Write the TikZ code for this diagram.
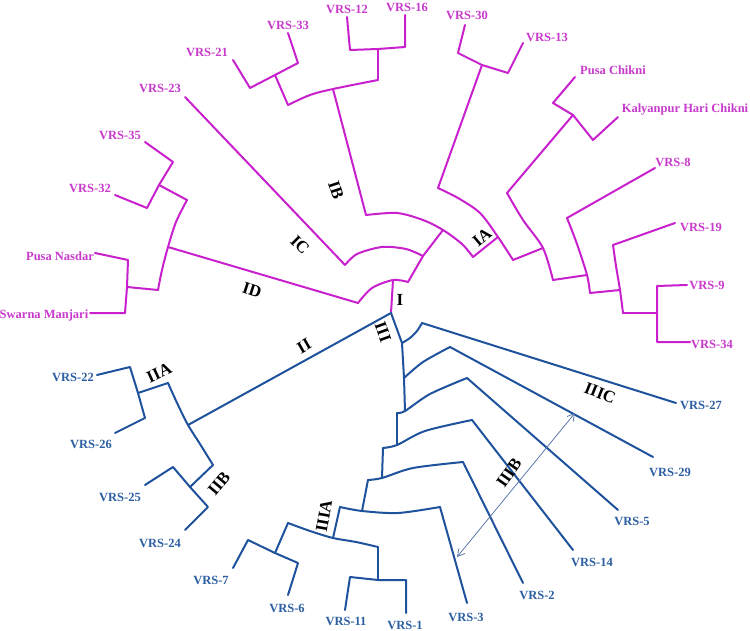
\documentclass[tikz,border=0pt]{standalone}
\usepackage{fontspec}
\setmainfont{Liberation Serif}
\usetikzlibrary{arrows.meta}
\definecolor{dendmag}{HTML}{C820CC}
\definecolor{dendblue}{HTML}{1F529C}
\definecolor{magtext}{HTML}{C83ACC}
\definecolor{bluetext}{HTML}{2C5FA2}
\definecolor{arrowgrey}{HTML}{5A78A8}

\begin{document}
\begin{tikzpicture}[x=1pt,y=-1pt,
    magbranch/.style={dendmag,line width=2pt,line join=round,line cap=round},
    bluebranch/.style={dendblue,line width=2pt,line join=round,line cap=round},
    maglabel/.style={magtext,font=\bfseries\fontsize{12.5}{12.5}\selectfont,inner sep=0pt},
    bluelabel/.style={bluetext,font=\bfseries\fontsize{12.5}{12.5}\selectfont,inner sep=0pt},
    grouplabel/.style={black,font=\bfseries\fontsize{17}{17}\selectfont,inner sep=0pt}]

    \useasboundingbox (0,0) rectangle (750,631);

    % Draw cluster ID.
    \node[maglabel] (n35) at (120,135) {VRS-35};
    \node[maglabel] (n32) at (90,188) {VRS-32};
    \node[maglabel] (nPN) at (60,256) {Pusa Nasdar};
    \node[maglabel] (nSM) at (44,315) {Swarna Manjari};
    \coordinate (t35) at (145,142); \coordinate (b35) at (173,162);
    \coordinate (t32) at (115,195); \coordinate (b32) at (147,208);
    \coordinate (j3532) at (159,185); \coordinate (s3532) at (187,200);
    \coordinate (tPN) at (95,253); \coordinate (bPN) at (128,260);
    \coordinate (tSM) at (90,313); \coordinate (bSM) at (125,313);
    \coordinate (jPNSM) at (127,287); \coordinate (sPNSM) at (158,290);
    \coordinate (jD) at (168,247); \coordinate (rD) at (358,303);
    \draw[magbranch] (t35) -- (b35) -- (j3532) -- (b32) -- (t32);
    \draw[magbranch] (j3532) -- (s3532);
    \draw[magbranch] (tPN) -- (bPN) -- (jPNSM) -- (bSM) -- (tSM);
    \draw[magbranch] (jPNSM) -- (sPNSM);
    \draw[magbranch] plot[smooth] coordinates {(s3532) (176,222) (jD) (162,270) (sPNSM)};
    \draw[magbranch] (jD) -- (rD);

    % Draw root of cluster I.
    \coordinate (jRoot) at (391,313);
    \coordinate (jI) at (393,280); \coordinate (a1r) at (408,282);
    \coordinate (jABC) at (423,256); \coordinate (jAB) at (443,230);
    \draw[magbranch] plot[smooth] coordinates {(rD) (372,288) (jI) (a1r)};
    \draw[magbranch] (jI) -- (jRoot);
    \draw[magbranch] (a1r) -- (jABC) -- (jAB);

    % Draw cluster IC.
    \node[maglabel] (n23) at (160,88) {VRS-23};
    \coordinate (t23) at (185,97); \coordinate (rC) at (345,265);
    \draw[magbranch] (t23) -- (rC);
    \draw[magbranch] plot[smooth] coordinates {(rC) (357,254) (382,247) (406,249) (jABC)};

    % Draw cluster IB.
    \coordinate (rB) at (366,215); \coordinate (rA) at (473,257);
    \draw[magbranch] plot[smooth] coordinates {(rB) (397,213) (423,220) (jAB) (462,244) (rA)};
    \node[maglabel] (n21) at (207,52) {VRS-21};
    \node[maglabel] (n33) at (288,25) {VRS-33};
    \node[maglabel] (n12) at (347,9) {VRS-12};
    \node[maglabel] (n16) at (407,7) {VRS-16};
    \coordinate (jB) at (333,89);
    \coordinate (s2133) at (288,105); \coordinate (s1216) at (378,80);
    \coordinate (t21) at (233,60); \coordinate (b21) at (250,88);
    \coordinate (j2133) at (275,75);
    \coordinate (b33) at (298,63); \coordinate (t33) at (288,33);
    \coordinate (t12) at (347,17); \coordinate (b12) at (350,50);
    \coordinate (j1216) at (378,49);
    \coordinate (b16) at (405,47); \coordinate (t16) at (405,15);
    \draw[magbranch] (jB) -- (rB);
    \draw[magbranch] plot[smooth] coordinates {(s2133) (310,95) (jB) (s1216)};
    \draw[magbranch] (t21) -- (b21) -- (j2133) -- (b33) -- (t33);
    \draw[magbranch] (j2133) -- (s2133);
    \draw[magbranch] (t12) -- (b12) -- (j1216) -- (b16) -- (t16);
    \draw[magbranch] (j1216) -- (s1216);

    % Draw cluster IA.
    \node[maglabel] (n30) at (467,15) {VRS-30};
    \node[maglabel] (n13) at (547,37) {VRS-13};
    \node[maglabel] (nPC) at (613,70) {Pusa Chikni};
    \node[maglabel] (nKH) at (685,110) {Kalyanpur Hari Chikni};
    \node[maglabel] (n8) at (673,162) {VRS-8};
    \node[maglabel] (n19) at (701,227) {VRS-19};
    \node[maglabel] (n9) at (707,285) {VRS-9};
    \node[maglabel] (n34) at (712,344) {VRS-34};
    \coordinate (jA) at (498,237); \coordinate (s3013) at (438,188);
    \coordinate (sA2) at (513,260); \coordinate (jA2) at (543,248);
    \coordinate (sPC) at (507,193); \coordinate (sA3) at (553,280);
    \coordinate (jA3) at (587,275); \coordinate (b8) at (567,218);
    \coordinate (sA4) at (590,293); \coordinate (jA4) at (620,290);
    \coordinate (b19) at (613,245); \coordinate (sA5) at (623,313);
    \coordinate (j934) at (657,313);
    \coordinate (t9) at (687,285); \coordinate (b9) at (657,286);
    \coordinate (t34) at (690,342); \coordinate (b34) at (657,342);
    \coordinate (t30) at (465,25); \coordinate (b30) at (458,53);
    \coordinate (j3013) at (482,65);
    \coordinate (b13) at (508,73); \coordinate (t13) at (523,43);
    \coordinate (tPC) at (575,77); \coordinate (bPC) at (553,103);
    \coordinate (jPK) at (573,115);
    \coordinate (bKH) at (593,140); \coordinate (tKH) at (618,117);
    \coordinate (t8) at (655,168); \coordinate (t19) at (675,223);
    \draw[magbranch] (rA) -- (jA);
    \draw[magbranch] plot[smooth] coordinates {(s3013) (458,198) (480,213) (jA) (sA2)};
    \draw[magbranch] (sA2) -- (jA2);
    \draw[magbranch] plot[smooth] coordinates {(sPC) (523,220) (jA2) (sA3)};
    \draw[magbranch] (sA3) -- (jA3);
    \draw[magbranch] plot[smooth] coordinates {(b8) (577,244) (jA3) (sA4)};
    \draw[magbranch] (sA4) -- (jA4);
    \draw[magbranch] plot[smooth] coordinates {(b19) (616,266) (jA4) (sA5)};
    \draw[magbranch] (sA5) -- (j934);
    \draw[magbranch] (t9) -- (b9) -- (j934) -- (b34) -- (t34);
    \draw[magbranch] (t30) -- (b30) -- (j3013) -- (b13) -- (t13);
    \draw[magbranch] (j3013) -- (s3013);
    \draw[magbranch] (tPC) -- (bPC) -- (jPK) -- (bKH) -- (tKH);
    \draw[magbranch] (jPK) -- (sPC);
    \draw[magbranch] (t8) -- (b8);
    \draw[magbranch] (t19) -- (b19);

    % Draw cluster II.
    \node[bluelabel] (n22) at (73,377) {VRS-22};
    \node[bluelabel] (n26) at (91,444) {VRS-26};
    \node[bluelabel] (n25) at (120,497) {VRS-25};
    \node[bluelabel] (n24) at (160,543) {VRS-24};
    \coordinate (jII) at (188,425);
    \coordinate (s2226) at (168,383); \coordinate (s2524) at (213,465);
    \coordinate (t22) at (97,375); \coordinate (b22) at (130,367);
    \coordinate (j2226) at (138,393);
    \coordinate (b26) at (145,418); \coordinate (t26) at (115,433);
    \coordinate (j2524) at (190,487);
    \coordinate (t25) at (145,485); \coordinate (b25) at (173,467);
    \coordinate (b24) at (208,507); \coordinate (t24) at (185,530);
    \draw[bluebranch] (jRoot) -- (jII);
    \draw[bluebranch] plot[smooth] coordinates {(s2226) (178,405) (jII) (200,444) (s2524)};
    \draw[bluebranch] (t22) -- (b22) -- (j2226) -- (b26) -- (t26);
    \draw[bluebranch] (j2226) -- (s2226);
    \draw[bluebranch] (s2524) -- (j2524);
    \draw[bluebranch] (t25) -- (b25) -- (j2524) -- (b24) -- (t24);

    % Draw cluster III.
    \node[bluelabel] (n27) at (701,405) {VRS-27};
    \node[bluelabel] (n29) at (670,472) {VRS-29};
    \node[bluelabel] (n5) at (632,521) {VRS-5};
    \node[bluelabel] (n14) at (592,562) {VRS-14};
    \node[bluelabel] (n2) at (537,595) {VRS-2};
    \node[bluelabel] (n3) at (466,617) {VRS-3};
    \node[bluelabel] (n1) at (405,625) {VRS-1};
    \node[bluelabel] (n11) at (346,621) {VRS-11};
    \node[bluelabel] (n6) at (287,608) {VRS-6};
    \node[bluelabel] (n7) at (211,580) {VRS-7};
    \coordinate (jIII) at (402,343); \coordinate (b27) at (422,323);
    \coordinate (c2) at (404,378); \coordinate (b29) at (450,347);
    \coordinate (j3) at (405,411); \coordinate (c3) at (397,413); \coordinate (b5) at (467,378);
    \coordinate (j4) at (397,445); \coordinate (c4) at (383,448); \coordinate (b14) at (472,420);
    \coordinate (j5) at (382,478); \coordinate (c5) at (368,480); \coordinate (b2) at (463,462);
    \coordinate (j6) at (362,511); \coordinate (c6) at (340,507); \coordinate (b3) at (440,507);
    \coordinate (t27) at (676,403); \coordinate (t29) at (653,457);
    \coordinate (t5) at (618,510); \coordinate (t14) at (573,550);
    \coordinate (t2) at (523,583); \coordinate (t3) at (467,603);
    \draw[bluebranch] (jRoot) -- (jIII);
    \draw[bluebranch] plot[smooth] coordinates {(jIII) (410,338) (417,331) (b27)};
    \draw[bluebranch] (jIII) -- (c2);
    \draw[bluebranch] plot[smooth] coordinates {(c2) (423,362) (b29)};
    \draw[bluebranch] (c2) -- (j3);
    \draw[bluebranch] plot[smooth] coordinates {(c3) (j3) (430,394) (b5)};
    \draw[bluebranch] (c3) -- (j4);
    \draw[bluebranch] plot[smooth] coordinates {(c4) (j4) (425,431) (b14)};
    \draw[bluebranch] (c4) -- (j5);
    \draw[bluebranch] plot[smooth] coordinates {(c5) (j5) (413,468) (b2)};
    \draw[bluebranch] (c5) -- (j6);
    \draw[bluebranch] plot[smooth] coordinates {(c6) (j6) (398,513) (b3)};
    \draw[bluebranch] (b27) -- (t27);
    \draw[bluebranch] (b29) -- (t29);
    \draw[bluebranch] (b5) -- (t5);
    \draw[bluebranch] (b14) -- (t14);
    \draw[bluebranch] (b2) -- (t2);
    \draw[bluebranch] (b3) -- (t3);

    % Draw cluster IIIA.
    \coordinate (jIIIA) at (333,538);
    \coordinate (s76) at (288,523); \coordinate (s111) at (378,547);
    \coordinate (j76) at (275,553);
    \coordinate (t7) at (233,568); \coordinate (b7) at (248,540);
    \coordinate (b6) at (298,563); \coordinate (t6) at (288,595);
    \coordinate (j111) at (378,580);
    \coordinate (t11) at (345,610); \coordinate (b11) at (350,577);
    \coordinate (b1) at (406,580); \coordinate (t1) at (406,613);
    \draw[bluebranch] (c6) -- (jIIIA);
    \draw[bluebranch] plot[smooth] coordinates {(s76) (310,531) (jIIIA) (356,542) (s111)};
    \draw[bluebranch] (s76) -- (j76);
    \draw[bluebranch] (t7) -- (b7) -- (j76) -- (b6) -- (t6);
    \draw[bluebranch] (s111) -- (j111);
    \draw[bluebranch] (t11) -- (b11) -- (j111) -- (b1) -- (t1);

    % Draw double arrow across IIIB.
    \coordinate (arrA) at (575,413); \coordinate (arrB) at (457,557);
    \draw[arrowgrey,line width=0.8pt,{Straight Barb[length=7pt,width=8pt]}-{Straight Barb[length=7pt,width=8pt]}] (arrB) -- (arrA);

    % Draw cluster names.
    \node[grouplabel] (gI) at (400,300) {I};
    \node[grouplabel,rotate=40] (gIA) at (482,237) {IA};
    \node[grouplabel,rotate=-72] (gIB) at (336,190) {IB};
    \node[grouplabel,rotate=-45] (gIC) at (300,245) {IC};
    \node[grouplabel,rotate=-18] (gID) at (252,290) {ID};
    \node[grouplabel,rotate=30] (gII) at (304,346) {II};
    \node[grouplabel,rotate=25] (gIIA) at (159,373) {IIA};
    \node[grouplabel,rotate=50] (gIIB) at (219,484) {IIB};
    \node[grouplabel,rotate=-70] (gIII) at (383,332) {III};
    \node[grouplabel,rotate=80] (gIIIA) at (324,516) {IIIA};
    \node[grouplabel,rotate=55] (gIIIB) at (509,473) {IIIB};
    \node[grouplabel,rotate=-22] (gIIIC) at (600,393) {IIIC};

\end{tikzpicture}
\end{document}
